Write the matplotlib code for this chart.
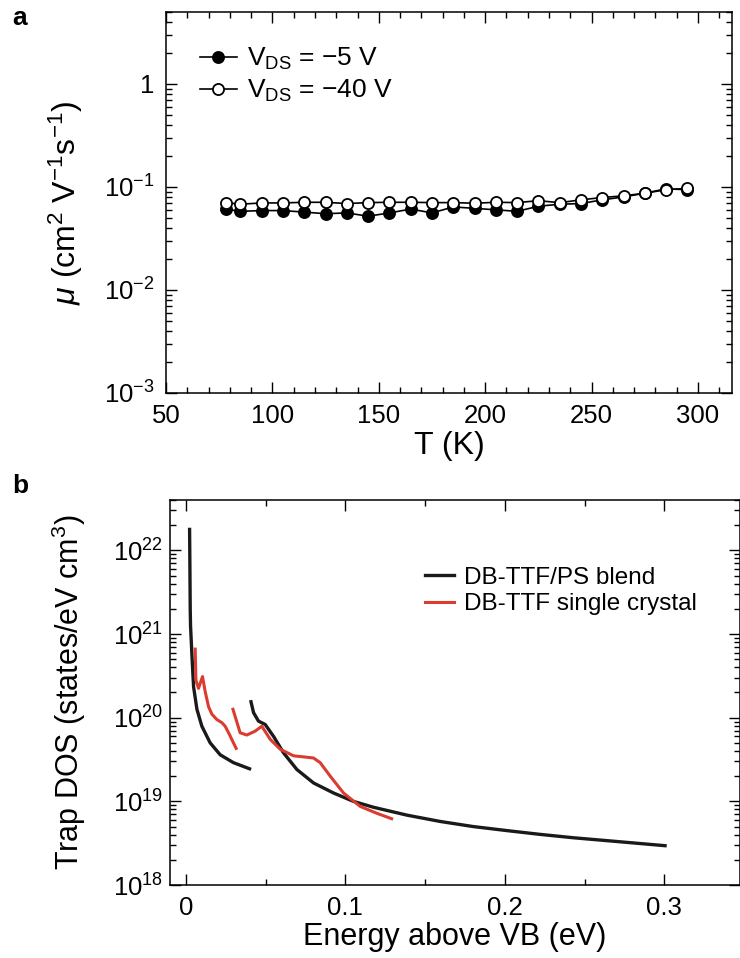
import numpy as np
import matplotlib
matplotlib.use("Agg")
import matplotlib.pyplot as pl
from matplotlib.ticker import MultipleLocator, LogLocator, FuncFormatter, NullFormatter

pl.rcParams["font.family"] = ["Liberation Sans", "DejaVu Sans"]
pl.rcParams["mathtext.fontset"] = "custom"
pl.rcParams["mathtext.rm"] = "Liberation Sans"
pl.rcParams["mathtext.it"] = "Liberation Sans:italic"
pl.rcParams["axes.linewidth"] = 1.1

# --- panel a: mobility vs temperature
temp = [78, 85, 95, 105, 115, 125, 135, 145, 155, 165, 175, 185,
        195, 205, 215, 225, 235, 245, 255, 265, 275, 285, 295]
mu_5v = [0.061, 0.058, 0.059, 0.059, 0.057, 0.055, 0.056, 0.052, 0.056,
         0.061, 0.056, 0.064, 0.062, 0.060, 0.058, 0.065, 0.068, 0.069,
         0.075, 0.080, 0.087, 0.096, 0.094]
mu_40v = [0.0705, 0.068, 0.070, 0.070, 0.071, 0.071, 0.069, 0.0705, 0.071,
          0.071, 0.0705, 0.0705, 0.0695, 0.071, 0.0705, 0.0736, 0.0704,
          0.075, 0.079, 0.082, 0.087, 0.094, 0.097]

# --- panel b: trap DOS vs energy (each curve in two pieces)
e_blend_1 = [0.0023, 0.0025, 0.0027, 0.0029, 0.0038, 0.0048, 0.0069, 0.010,
             0.0152, 0.0215, 0.0298, 0.0399]
dos_blend_1 = [1.78e22, 6.3e21, 1.95e21, 1.25e21, 5.4e20, 2.34e20, 1.26e20,
               7.9e19, 5.0e19, 3.6e19, 2.9e19, 2.45e19]
e_blend_2 = [0.0408, 0.0424, 0.0455, 0.0497, 0.0549, 0.0612, 0.0696, 0.080,
             0.0925, 0.105, 0.1176, 0.1386, 0.1594, 0.180, 0.2013, 0.222,
             0.243, 0.264, 0.285, 0.3005]
dos_blend_2 = [1.55e20, 1.15e20, 9.1e19, 8.3e19, 6.0e19, 3.8e19, 2.4e19,
               1.66e19, 1.26e19, 1.0e19, 8.5e18, 6.84e18, 5.75e18, 5.0e18,
               4.47e18, 4.03e18, 3.67e18, 3.39e18, 3.13e18, 2.95e18]
e_xtal_1 = [0.0058, 0.0063, 0.0079, 0.0104, 0.0121, 0.0142, 0.0163, 0.0194,
            0.0226, 0.0246, 0.0273, 0.0298, 0.0315]
dos_xtal_1 = [6.6e20, 2.8e20, 2.24e20, 3.1e20, 2.04e20, 1.35e20, 1.1e20,
              9.5e19, 8.7e19, 7.9e19, 6.3e19, 5.0e19, 4.3e19]
e_xtal_2 = [0.0295, 0.034, 0.0382, 0.0434, 0.0476, 0.0529, 0.0591, 0.0675,
            0.080, 0.0842, 0.0905, 0.0988, 0.1093, 0.1197, 0.129]
dos_xtal_2 = [1.26e20, 6.6e19, 6.2e19, 6.9e19, 7.9e19, 5.5e19, 4.2e19,
              3.5e19, 3.3e19, 2.9e19, 2.0e19, 1.26e19, 8.7e18, 7.2e18, 6.2e18]

BLACK = "#1a1a1a"
RED = "#dc3b30"


def pow10(v, pos):
    e = int(round(np.log10(v)))
    if e == 0:
        return "1"
    return r"$\mathregular{10^{%d}}$" % e


def style_log_y(ax):
    ax.yaxis.set_major_locator(LogLocator(base=10, numticks=20))
    ax.yaxis.set_minor_locator(LogLocator(base=10, subs=np.arange(2, 10),
                                          numticks=20))
    ax.yaxis.set_major_formatter(FuncFormatter(pow10))
    ax.yaxis.set_minor_formatter(NullFormatter())
    ax.tick_params(which="both", direction="in", top=True, right=True,
                   width=1.0, labelsize=18.5, pad=8)
    ax.tick_params(which="major", length=8)
    ax.tick_params(which="minor", length=4)


fig = pl.figure(figsize=(7.4, 9.58), dpi=100)

ax = fig.add_axes([0.2243, 0.5898, 0.765, 0.3977])
ax.plot(temp, mu_5v, "o-", color="k", mfc="k", mec="k", ms=8, mew=1.3,
        lw=1.2, label=r"V$_{\mathrm{DS}}$ = −5 V")
ax.plot(temp, mu_40v, "o-", color="k", mfc="w", mec="k", ms=8, mew=1.3,
        lw=1.2, label=r"V$_{\mathrm{DS}}$ = −40 V")
ax.set_yscale("log")
ax.set_ylim(1e-3, 5)
ax.set_xlim(50, 316)
ax.xaxis.set_major_locator(MultipleLocator(50))
ax.xaxis.set_minor_locator(MultipleLocator(10))
style_log_y(ax)
ax.set_xlabel("T (K)", fontsize=23)
ax.set_ylabel(r"$\mu$ (cm$^{2}$ V$^{-1}$s$^{-1}$)", fontsize=23)
ax.xaxis.set_label_coords(0.5, -0.10)
ax.yaxis.set_label_coords(-0.143, 0.5)
ax.legend(loc="upper left", bbox_to_anchor=(0.06, 0.91), frameon=False,
          borderpad=0, borderaxespad=0, handlelength=1.4, handletextpad=0.4,
          labelspacing=0.22, fontsize=19)

ax = fig.add_axes([0.2297, 0.0762, 0.7703, 0.4019])
ax.plot(e_blend_1, dos_blend_1, color=BLACK, lw=2.4, label="DB-TTF/PS blend")
ax.plot(e_blend_2, dos_blend_2, color=BLACK, lw=2.4)
ax.plot(e_xtal_1, dos_xtal_1, color=RED, lw=2.2,
        label="DB-TTF single crystal")
ax.plot(e_xtal_2, dos_xtal_2, color=RED, lw=2.2)
ax.set_yscale("log")
ax.set_ylim(1e18, 4e22)
ax.set_xlim(-0.01, 0.3475)
ax.xaxis.set_major_locator(MultipleLocator(0.1))
ax.xaxis.set_minor_locator(MultipleLocator(0.05))
ax.xaxis.set_major_formatter(FuncFormatter(lambda v, pos: "%g" % round(v, 3)))
style_log_y(ax)
ax.tick_params(axis="y", pad=5)
ax.set_xlabel("Energy above VB (eV)", fontsize=22)
ax.set_ylabel(r"Trap DOS (states/eV cm$^{3}$)", fontsize=22)
ax.xaxis.set_label_coords(0.5, -0.097)
ax.yaxis.set_label_coords(-0.144, 0.5)
ax.legend(loc="upper left", bbox_to_anchor=(0.447, 0.827), frameon=False,
          borderpad=0, borderaxespad=0, handlelength=1.2, handletextpad=0.4,
          labelspacing=0.2, fontsize=17.5)

fig.text(12 / 740, 1 - 6 / 958, "a", fontsize=19, fontweight="bold",
         va="top", ha="left")
fig.text(12 / 740, 1 - 474 / 958, "b", fontsize=19, fontweight="bold",
         va="top", ha="left")

fig.savefig("out.png", dpi=100)
